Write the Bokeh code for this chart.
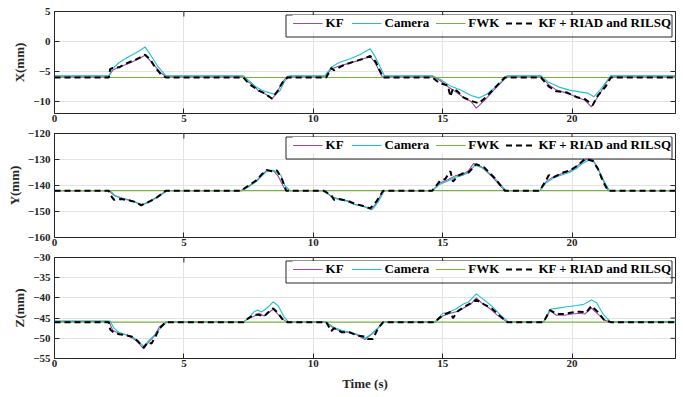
import math
from bokeh.plotting import figure
from bokeh.models import Range1d
from bokeh.layouts import column
from bokeh.embed import file_html
from bokeh.resources import INLINE

# ---------------- data ----------------
T_RANGE = (0, 24)
X_TICKS = [0, 5, 10, 15, 20]

# FWK constant levels
FWK_X = -6.0
FWK_Y = -142.0
FWK_Z = -46.0

# ---- X (mm)
kf_x_t = [0, 2.1, 2.25, 2.5, 2.8, 3.1, 3.3, 3.5, 3.7, 3.9, 4.1, 4.3, 7.25, 7.5, 7.7,
          7.9, 8.1, 8.3, 8.4, 8.6, 8.8, 9.0, 10.45, 10.7, 11.0, 11.4, 11.8, 12.2, 12.4, 12.65,
          14.6, 14.9, 15.2, 15.5, 15.8, 16.1, 16.3, 16.6, 17.0, 17.5, 18.8, 19.1, 19.4, 19.8, 20.2,
          20.5, 20.75, 21.0, 21.3, 21.5, 24]
kf_x_v = [-5.8, -5.8, -4.8, -4.2, -3.8, -3.2, -2.8, -2.3, -3.2, -4.2, -5.2, -5.8, -5.8, -6.8, -7.3,
          -8.3, -8.6, -9.2, -9.6, -8.5, -6.8, -5.8, -5.8, -4.6, -4.1, -3.6, -3.1, -2.5, -3.6, -5.8,
          -5.8, -6.5, -7.5, -8.4, -9.3, -10.0, -11.1, -9.9, -8.0, -5.8, -5.8, -7.2, -8.1, -8.6, -9.3,
          -9.8, -10.9, -9.2, -7.0, -5.8, -5.8]
cam_x_t = [0, 2.1, 2.25, 2.5, 2.8, 3.1, 3.3, 3.5, 3.75, 4.0, 4.3, 7.3, 7.5, 7.8, 8.0,
           8.2, 8.5, 8.7, 8.9, 9.1, 10.45, 10.7, 11.0, 11.4, 11.8, 12.2, 12.4, 12.75, 14.6, 14.9,
           15.3, 15.7, 16.1, 16.4, 16.7, 17.1, 17.5, 18.8, 19.1, 19.5, 19.9, 20.3, 20.6, 20.85, 21.1,
           21.5, 24]
cam_x_v = [-5.7, -5.7, -4.5, -3.5, -2.7, -2.0, -1.5, -0.9, -2.5, -4.2, -5.7, -5.7, -6.5, -7.6, -8.1,
           -8.4, -8.8, -8.3, -6.6, -5.7, -5.7, -4.3, -3.5, -2.9, -2.2, -1.2, -2.6, -5.7, -5.7, -6.3,
           -7.4, -8.1, -9.0, -9.4, -8.8, -7.4, -5.7, -5.7, -6.8, -7.6, -8.1, -8.4, -8.6, -9.2, -8.0,
           -5.7, -5.7]
ria_x_t = [0, 2.1, 2.15, 2.25, 2.5, 2.8, 3.1, 3.5, 3.7, 3.9, 4.1, 4.3, 7.3, 7.5, 7.7,
           7.9, 8.1, 8.4, 8.6, 8.8, 9.0, 10.5, 10.7, 10.8, 11.2, 11.6, 12.0, 12.2, 12.4, 12.7,
           14.6, 14.9, 15.2, 15.3, 15.4, 15.6, 15.8, 16.1, 16.4, 16.7, 17.0, 17.4, 18.8, 19.1, 19.4,
           19.8, 20.2, 20.5, 20.8, 21.0, 21.3, 21.5, 24]
ria_x_v = [-6, -6, -4.6, -4.4, -4.3, -3.6, -3.1, -2.2, -3.0, -4.4, -5.4, -6, -6, -7.0, -7.6,
           -8.2, -8.6, -9.5, -8.4, -6.9, -6, -6, -4.4, -4.8, -3.9, -3.3, -2.8, -2.4, -3.3, -6.0,
           -6.0, -7.0, -7.3, -9.2, -7.8, -8.4, -9.3, -9.9, -10.3, -9.2, -7.8, -6.0, -6.0, -7.5, -8.3,
           -8.5, -9.3, -9.6, -10.6, -9.0, -7.5, -6.0, -6.0]

# ---- Y (mm)
kf_y_t = [0, 2.1, 2.3, 2.6, 2.9, 3.1, 3.35, 3.6, 3.9, 4.1, 4.3, 7.2, 7.5, 7.8, 8.0,
          8.2, 8.45, 8.65, 8.85, 9.0, 10.4, 10.7, 11.0, 11.3, 11.6, 11.9, 12.25, 12.45, 12.7, 14.6,
          14.9, 15.2, 15.5, 15.8, 16.0, 16.2, 16.5, 16.9, 17.4, 18.75, 19.0, 19.3, 19.6, 19.9, 20.2,
          20.4, 20.6, 20.8, 21.0, 21.2, 21.4, 24]
kf_y_v = [-142, -142, -143.8, -144.8, -145.6, -146.2, -147.6, -146.4, -144.8, -143.6, -142, -142, -140.3, -138.2, -136.0,
          -134.3, -134.2, -136.5, -140.5, -142, -142, -144.2, -145.3, -145.8, -147.3, -147.8, -149.3, -146.5, -142, -142,
          -139.0, -137.8, -136.2, -135.6, -134.3, -131.5, -132.8, -136.5, -142, -142, -138.5, -136.5, -135.5, -134.5, -132.5,
          -131.0, -129.7, -130.0, -133.5, -138.0, -142, -142]
cam_y_t = [0, 2.15, 2.35, 2.6, 2.9, 3.1, 3.4, 3.6, 3.9, 4.1, 4.35, 7.25, 7.5, 7.8, 8.0,
           8.2, 8.5, 8.75, 8.9, 9.1, 10.45, 10.7, 11.0, 11.3, 11.6, 11.9, 12.3, 12.5, 12.75, 14.6,
           14.9, 15.2, 15.5, 15.8, 16.0, 16.25, 16.6, 17.0, 17.45, 18.75, 19.0, 19.3, 19.6, 19.9, 20.2,
           20.4, 20.65, 20.85, 21.05, 21.25, 21.45, 24]
cam_y_v = [-142, -142, -144.0, -145.0, -145.8, -146.3, -147.4, -146.6, -145.0, -143.8, -142, -142, -140.5, -138.5, -136.5,
           -134.6, -134.3, -136.0, -140.0, -142, -142, -144.4, -145.5, -146.0, -147.3, -148.0, -149.0, -146.5, -142, -142,
           -139.5, -138.3, -136.8, -136.0, -135.0, -132.2, -133.5, -137.0, -142, -142, -139.0, -137.0, -136.0, -135.0, -133.3,
           -131.5, -130.3, -131.0, -134.5, -138.5, -142, -142]
ria_y_t = [0, 2.1, 2.15, 2.3, 2.6, 2.9, 3.1, 3.35, 3.6, 3.9, 4.1, 4.3, 7.2, 7.5, 7.8,
           8.0, 8.2, 8.4, 8.6, 8.8, 8.95, 10.4, 10.7, 10.8, 11.0, 11.3, 11.6, 11.9, 12.2, 12.45,
           12.7, 14.6, 14.9, 15.1, 15.3, 15.4, 15.6, 15.8, 16.0, 16.3, 16.6, 17.0, 17.4, 18.75, 19.0,
           19.1, 19.3, 19.6, 19.9, 20.2, 20.5, 20.8, 21.0, 21.2, 21.4, 24]
ria_y_v = [-142, -142, -143.5, -145.5, -145.2, -145.8, -146.3, -147.6, -146.5, -145, -143.5, -142, -142, -140.0, -138.0,
           -135.8, -134.0, -134.5, -134.2, -137.8, -142, -142, -143.8, -145.5, -145.2, -145.8, -147.0, -147.8, -148.8, -146.0,
           -142, -142, -138.2, -137.5, -134.5, -138.5, -136.2, -135.3, -135.0, -131.8, -133.0, -137.0, -142, -142, -138.0,
           -136.0, -136.8, -135.2, -134.3, -132.5, -129.8, -130.5, -133.5, -138.5, -142, -142]

# ---- Z (mm)
kf_z_t = [0, 2.1, 2.25, 2.5, 2.8, 3.0, 3.2, 3.45, 3.65, 3.85, 4.05, 4.3, 7.3, 7.5, 7.7,
          7.9, 8.1, 8.25, 8.45, 8.6, 8.8, 9.0, 10.5, 10.8, 11.1, 11.4, 11.7, 12.0, 12.25, 12.5,
          12.7, 14.7, 15.0, 15.3, 15.6, 15.9, 16.1, 16.3, 16.5, 16.8, 17.1, 17.5, 18.9, 19.15, 19.4,
          19.7, 20.0, 20.3, 20.5, 20.75, 21.0, 21.25, 21.5, 24]
kf_z_v = [-45.8, -45.8, -48.0, -48.8, -49.2, -49.9, -50.8, -52.6, -50.8, -49.5, -47.2, -46.0, -46.0, -45.0, -44.6,
          -43.8, -44.5, -43.8, -42.8, -43.8, -45.2, -46.0, -46.0, -47.6, -48.3, -48.6, -49.2, -50.3, -49.0, -47.5,
          -46.0, -46.0, -44.5, -43.8, -43.3, -42.2, -41.5, -40.0, -41.2, -42.5, -44.2, -46.0, -46.0, -43.2, -44.3,
          -44.3, -44.0, -43.8, -44.0, -42.5, -44.0, -45.5, -46.0, -46.0]
cam_z_t = [0, 2.15, 2.3, 2.5, 2.8, 3.0, 3.2, 3.45, 3.65, 3.85, 4.1, 4.35, 7.3, 7.5, 7.7,
           7.85, 8.0, 8.15, 8.3, 8.45, 8.65, 8.85, 9.05, 10.5, 10.8, 11.1, 11.4, 11.7, 12.0, 12.25,
           12.5, 12.75, 14.7, 15.0, 15.2, 15.5, 15.8, 16.0, 16.3, 16.6, 16.9, 17.2, 17.55, 18.9, 19.15,
           19.4, 19.8, 20.2, 20.45, 20.75, 20.95, 21.2, 21.5, 24]
cam_z_v = [-45.7, -45.7, -47.5, -48.6, -49.2, -49.6, -50.5, -52.0, -50.5, -49.3, -47.5, -46.0, -46.0, -45.0, -43.5,
           -43.0, -43.5, -42.8, -42.0, -41.0, -42.0, -44.5, -46.0, -46.0, -47.3, -48.0, -48.5, -49.0, -50.0, -49.0,
           -47.5, -46.0, -46.0, -43.8, -43.6, -42.8, -41.5, -41.0, -39.0, -40.5, -42.0, -44.0, -46.0, -46.0, -42.8,
           -42.6, -42.2, -41.9, -41.6, -40.5, -41.2, -44.0, -46.0, -45.8]
ria_z_t = [0, 2.1, 2.15, 2.3, 2.5, 2.8, 3.0, 3.2, 3.45, 3.6, 3.75, 3.9, 4.05, 4.3, 7.3,
           7.5, 7.7, 7.9, 8.1, 8.25, 8.45, 8.6, 8.8, 9.0, 10.5, 10.7, 10.8, 11.1, 11.4, 11.7,
           12.0, 12.1, 12.3, 12.5, 12.7, 14.7, 14.9, 15.1, 15.3, 15.4, 15.6, 15.9, 16.3, 16.6, 16.9,
           17.2, 17.5, 18.9, 19.15, 19.4, 19.7, 20.0, 20.3, 20.55, 20.75, 21.0, 21.25, 21.5, 24]
ria_z_v = [-46, -46, -47.8, -48.6, -49.0, -49.3, -49.6, -50.6, -52.3, -51.0, -51.3, -49.6, -47.6, -46, -46,
           -45.0, -44.2, -44.2, -44.6, -43.6, -42.6, -43.5, -45.2, -46, -46, -48.2, -47.5, -48.5, -48.5, -49.3,
           -49.6, -50.2, -50.2, -47.6, -46, -46, -44.8, -44.0, -43.5, -45.0, -43.2, -42.0, -40.5, -41.6, -42.6,
           -44.4, -46, -46, -43.0, -44.0, -44.0, -43.6, -43.4, -43.6, -42.0, -43.5, -45.5, -46, -46]

LABELS = ["KF", "Camera", "FWK", "KF + RIAD and RILSQ"]
COLORS = {"KF": "#9E4AA8", "Camera": "#1CC3CC", "FWK": "#77B340", "RIAD": "#000000"}

# ---------------- drawing ----------------
FONT = "Liberation Serif"
AX = "#262626"
FRAME_W = 621
LEG_MARGIN = 4
LEG_W = 385      # expected pixel width of the legend box
LEG_H = 21       # expected pixel height of the legend box


def style_axis(ax, ticks):
    ax.ticker = ticks
    ax.major_tick_in = 5
    ax.major_tick_out = 0
    ax.minor_tick_line_color = None
    ax.axis_line_color = AX
    ax.major_tick_line_color = AX
    ax.major_label_text_font = FONT
    ax.major_label_text_font_style = "bold"
    ax.major_label_text_color = AX
    ax.major_label_text_font_size = "11px"


def panel(ylabel, yr, yticks, kf, cam, fwk, ria, frame_h, top, bottom,
          xlabel=None, xstand=1):
    p = figure(frame_width=FRAME_W, frame_height=frame_h,
               x_range=Range1d(*T_RANGE), y_range=Range1d(*yr),
               output_backend="svg", toolbar_location=None,
               min_border_left=54, min_border_right=8,
               min_border_top=top, min_border_bottom=bottom,
               background_fill_color="white", border_fill_color="white")
    p.outline_line_color = AX
    p.outline_line_width = 1

    assert len(kf[0]) == len(kf[1])
    assert len(cam[0]) == len(cam[1])
    assert len(ria[0]) == len(ria[1])

    p.xgrid.grid_line_color = "#E3E3E3"
    p.ygrid.grid_line_color = "#E3E3E3"

    # legend frame, drawn at glyph level before the legend itself
    # (the legend's own border spoils its glyph colours in SVG output)
    sx = (T_RANGE[1] - T_RANGE[0]) / FRAME_W
    sy = (yr[1] - yr[0]) / frame_h
    p.quad(left=[T_RANGE[0] + (FRAME_W - LEG_MARGIN - LEG_W - 0.5) * sx],
           right=[T_RANGE[0] + (FRAME_W - LEG_MARGIN + 0.5) * sx],
           top=[yr[1] - (LEG_MARGIN - 0.5) * sy],
           bottom=[yr[1] - (LEG_MARGIN + LEG_H + 0.5) * sy],
           fill_color=None, line_color=AX, line_width=1)

    p.line(kf[0], kf[1], line_color=COLORS["KF"], line_width=1.1, legend_label=LABELS[0])
    p.line(cam[0], cam[1], line_color=COLORS["Camera"], line_width=1.1, legend_label=LABELS[1])
    p.line(list(T_RANGE), [fwk, fwk], line_color=COLORS["FWK"], line_width=1.2, legend_label=LABELS[2])
    p.line(ria[0], ria[1], line_color=COLORS["RIAD"], line_width=2, line_dash="6 4",
           legend_label=LABELS[3])

    # inward tick marks on the right and top frame edges (box style)
    p.scatter([T_RANGE[1]] * len(yticks), yticks, marker="dash", size=10,
              line_color=AX, line_width=1)
    p.scatter(X_TICKS, [yr[1]] * len(X_TICKS), marker="dash", size=10, angle=math.pi / 2,
              line_color=AX, line_width=1)

    style_axis(p.xaxis[0], X_TICKS)
    p.xaxis[0].major_label_standoff = xstand
    style_axis(p.yaxis[0], yticks)
    p.yaxis[0].major_label_standoff = 4
    p.yaxis[0].axis_label = ylabel
    p.yaxis[0].axis_label_text_font = FONT
    p.yaxis[0].axis_label_text_font_style = "bold"
    p.yaxis[0].axis_label_text_font_size = "13px"
    p.yaxis[0].axis_label_text_color = AX
    p.yaxis[0].axis_label_standoff = 3
    if xlabel:
        p.xaxis[0].axis_label = xlabel
        p.xaxis[0].axis_label_text_font = FONT
        p.xaxis[0].axis_label_text_font_style = "bold"
        p.xaxis[0].axis_label_text_font_size = "13px"
        p.xaxis[0].axis_label_text_color = AX
        p.xaxis[0].axis_label_standoff = 6

    lg = p.legend[0]
    lg.location = "top_right"
    lg.orientation = "horizontal"
    lg.margin = LEG_MARGIN
    lg.padding = 3
    lg.spacing = 6
    lg.glyph_width = 30
    lg.glyph_height = 12
    lg.label_height = 12
    lg.label_standoff = 3
    lg.label_text_font = FONT
    lg.label_text_font_style = "bold"
    lg.label_text_font_size = "13px"
    lg.label_text_color = "#000000"
    lg.border_line_color = None
    lg.background_fill_color = "white"
    lg.background_fill_alpha = 1
    return p


p1 = panel("X(mm)", (-12, 5), [-10, -5, 0, 5],
           (kf_x_t, kf_x_v), (cam_x_t, cam_x_v), FWK_X, (ria_x_t, ria_x_v),
           frame_h=102, top=11, bottom=14)
p2 = panel("Y(mm)", (-160, -120), [-160, -150, -140, -130, -120],
           (kf_y_t, kf_y_v), (cam_y_t, cam_y_v), FWK_Y, (ria_y_t, ria_y_v),
           frame_h=104, top=6, bottom=14)
p3 = panel("Z(mm)", (-55, -30), [-55, -50, -45, -40, -35, -30],
           (kf_z_t, kf_z_v), (cam_z_t, cam_z_v), FWK_Z, (ria_z_t, ria_z_v),
           frame_h=101, top=6, bottom=39, xlabel="Time (s)")

layout = column(p1, p2, p3, spacing=0)
open("out.html", "w").write(file_html(layout, INLINE))
